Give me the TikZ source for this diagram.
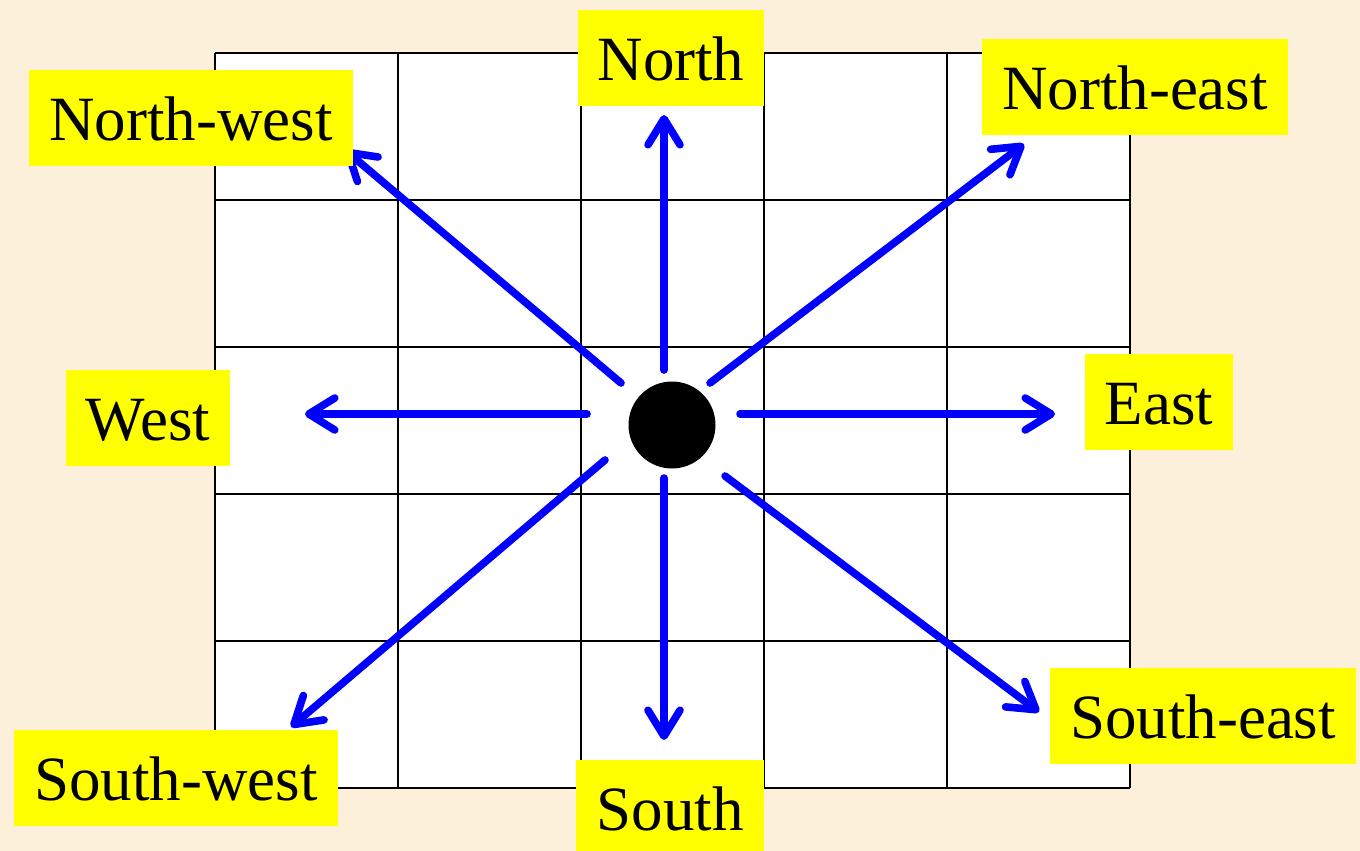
\documentclass[tikz,border=0pt]{standalone}
\usepackage{fontspec}
\setmainfont{Liberation Serif}
\usepackage{xcolor}
\definecolor{compParch}{HTML}{FCF0DA}
\definecolor{compBlue}{HTML}{0000FF}
\definecolor{compYellow}{HTML}{FFFF00}
\usetikzlibrary{arrows.meta}

\begin{document}
\begin{tikzpicture}[
  x=0.5pt, y=-0.5pt,
  font=\fontsize{31.5}{36}\selectfont,
  gridline/.style={draw=black, line width=1.4pt},
  ray/.style={-{Straight Barb[length=13pt, width=16pt, round]}, line width=3.8pt, compBlue, line cap=round},
  dirlabel/.style={fill=compYellow, text=black, inner xsep=10pt, minimum height=48pt, text height=22pt, text depth=0pt}
]

% Page and parchment background
\useasboundingbox (0,0) rectangle (1360,851);
\fill[compParch] (0,0) rectangle (1360,851);

% The 5 x 5 grid
\fill[white] (215,53) rectangle (1130,788);
\foreach \gx in {215,398,581,764,947,1130}
  \draw[gridline] (\gx,53) -- (\gx,788);
\foreach \gy in {53,200,347,494,641,788}
  \draw[gridline] (215,\gy) -- (1130,\gy);

% Eight directions leaving the centre
\foreach \nm/\sx/\sy/\ex/\ey in {n/664/370/664/115, s/664/478/664/740,
    w/587/414/305/414, e/740/414/1055/414,
    nw/621/383/345/150, ne/710/383/1024/144,
    sw/605/460/291/727, se/725/476/1039/712} {
  \coordinate (\nm-start) at (\sx,\sy);
  \coordinate (\nm-tip) at (\ex,\ey);
  \draw[ray] (\nm-start) -- (\nm-tip);
}

% Centre point
\node[circle, fill=black, minimum size=43.5pt, inner sep=0pt] (centre) at (672,425) {};

% Direction labels
\node[dirlabel] (north) at (671,58) {North};
\node[dirlabel] (northwest) at (191,118) {North-west};
\node[dirlabel] (northeast) at (1135,87) {North-east};
\node[dirlabel] (west) at (148,418) {West};
\node[dirlabel] (east) at (1159,402) {East};
\node[dirlabel] (southwest) at (176,778) {South-west};
\node[dirlabel] (south) at (670,808) {South};
\node[dirlabel] (southeast) at (1203,716) {South-east};

\end{tikzpicture}
\end{document}
